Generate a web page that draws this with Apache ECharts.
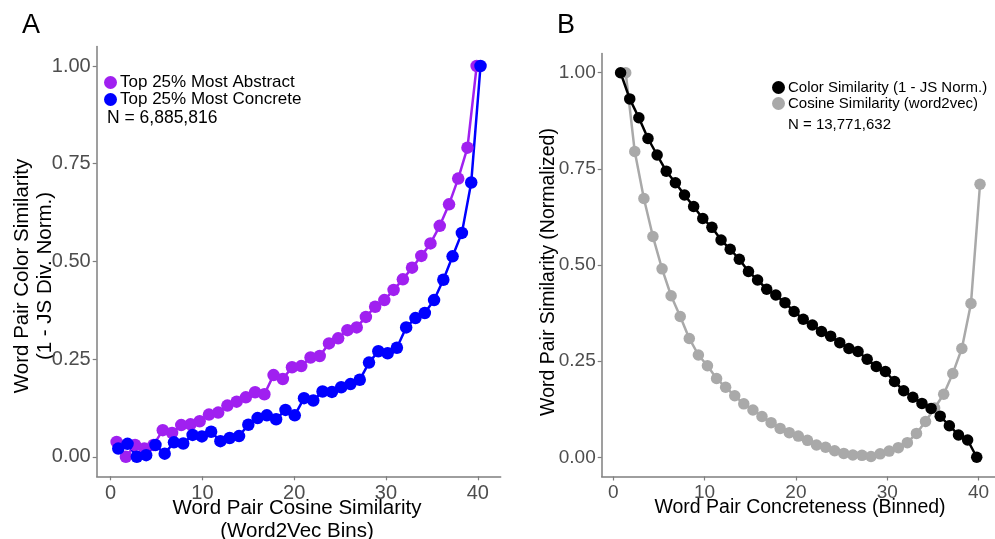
<!DOCTYPE html>
<html>
<head>
<meta charset="utf-8">
<script src="https://cdn.jsdelivr.net/npm/echarts@6/dist/echarts.min.js"></script>
<style>
html,body{margin:0;padding:0;background:#fff;}
#main{width:995px;height:539px;}
</style>
</head>
<body>
<div id="main"></div>
<script>
// ---------- Panel A data ----------
const abstractX = [0.65,1.66,2.66,3.67,4.67,5.68,6.69,7.69,8.70,9.70,10.71,11.72,12.72,13.73,14.73,15.74,16.75,17.75,18.76,19.76,20.77,21.78,22.78,23.79,24.79,25.80,26.81,27.81,28.82,29.82,30.83,31.84,32.84,33.85,34.85,35.86,36.87,37.87,38.88,39.88];
const abstractY = [0.038,0.0,0.030,0.021,0.030,0.068,0.061,0.081,0.083,0.091,0.108,0.113,0.131,0.141,0.152,0.165,0.160,0.209,0.199,0.229,0.232,0.254,0.258,0.290,0.303,0.324,0.331,0.358,0.384,0.401,0.427,0.454,0.484,0.514,0.546,0.591,0.646,0.712,0.791,1.0];
const concreteX = [0.83,1.84,2.85,3.87,4.88,5.89,6.90,7.91,8.93,9.94,10.95,11.96,12.97,13.99,15.00,16.01,17.02,18.03,19.05,20.06,21.07,22.08,23.09,24.11,25.12,26.13,27.14,28.15,29.17,30.18,31.19,32.20,33.21,34.23,35.24,36.25,37.26,38.27,39.29,40.30];
const concreteY = [0.021,0.033,0.0,0.004,0.030,0.008,0.037,0.034,0.056,0.052,0.064,0.040,0.048,0.053,0.082,0.099,0.106,0.096,0.120,0.106,0.150,0.144,0.167,0.166,0.178,0.186,0.197,0.241,0.270,0.265,0.279,0.331,0.355,0.368,0.401,0.453,0.513,0.573,0.702,1.0];

// ---------- Panel B data ----------
const colorSimX = [0.8,1.8,2.8,3.8,4.8,5.8,6.8,7.8,8.8,9.8,10.8,11.8,12.8,13.8,14.8,15.8,16.8,17.8,18.8,19.8,20.8,21.8,22.8,23.8,24.8,25.8,26.8,27.8,28.8,29.8,30.8,31.8,32.8,33.8,34.8,35.8,36.8,37.8,38.8,39.8];
const colorSimY = [1.0,0.932,0.883,0.829,0.786,0.744,0.714,0.682,0.652,0.621,0.598,0.565,0.541,0.515,0.483,0.461,0.437,0.422,0.402,0.379,0.359,0.344,0.327,0.315,0.298,0.283,0.275,0.255,0.236,0.223,0.197,0.173,0.156,0.140,0.127,0.107,0.082,0.058,0.045,0.0];
const cosineSimX = [1.36,2.35,3.35,4.34,5.34,6.33,7.33,8.32,9.32,10.31,11.31,12.30,13.30,14.29,15.29,16.28,17.28,18.27,19.27,20.26,21.26,22.25,23.25,24.24,25.24,26.23,27.23,28.22,29.22,30.21,31.21,32.20,33.20,34.19,35.19,36.18,37.18,38.17,39.17,40.16];
const cosineSimY = [1.0,0.795,0.673,0.574,0.490,0.420,0.366,0.309,0.266,0.238,0.205,0.182,0.160,0.139,0.123,0.106,0.090,0.075,0.064,0.055,0.044,0.032,0.026,0.017,0.010,0.006,0.005,0.002,0.009,0.016,0.025,0.038,0.062,0.093,0.128,0.164,0.218,0.283,0.400,0.710];

// ---------- ticks / labels ----------
const xTickValues = [0,10,20,30,40];
const yTickValues = [0,0.25,0.5,0.75,1];
const seriesNamesA = ['Top 25% Most Abstract','Top 25% Most Concrete'];
const seriesNamesB = ['Color Similarity (1 - JS Norm.)','Cosine Similarity (word2vec)'];
const nTextA = 'N = 6,885,816';
const nTextB = 'N = 13,771,632';

const FONT = '"Liberation Sans", Arial, sans-serif';
const pair = (xs, ys) => xs.map((x, i) => [x, ys[i]]);

const chart = echarts.init(document.getElementById('main'), null, {renderer: 'canvas'});

function xAxisDef(gridIndex, min, max, fs) {
  return {
    type: 'value', gridIndex, min, max,
    axisLine: {show: true, onZero: false, lineStyle: {color: '#7f7f7f', width: 1.5}},
    axisTick: {show: true, length: 4, customValues: xTickValues, lineStyle: {color: '#7f7f7f', width: 1.2}},
    axisLabel: {customValues: xTickValues, color: '#4d4d4d', fontSize: fs, fontFamily: FONT, margin: 7},
    splitLine: {show: false}
  };
}
function yAxisDef(gridIndex, fs) {
  return {
    type: 'value', gridIndex, min: -0.05, max: 1.05,
    axisLine: {show: true, onZero: false, lineStyle: {color: '#7f7f7f', width: 1.5}},
    axisTick: {show: true, length: 4, customValues: yTickValues, lineStyle: {color: '#7f7f7f', width: 1.2}},
    axisLabel: {customValues: yTickValues, color: '#4d4d4d', fontSize: fs, fontFamily: FONT, margin: 6,
      formatter: v => v.toFixed(2)},
    splitLine: {show: false}
  };
}
function lineS(name, xi, data, color) {
  return {name, type: 'line', xAxisIndex: xi, yAxisIndex: xi, data, showSymbol: false, symbol: 'none',
    lineStyle: {color, width: 2.5}, itemStyle: {color}, z: 2, animation: false, silent: true};
}
function dotS(name, xi, data, color, size) {
  return {name, type: 'scatter', xAxisIndex: xi, yAxisIndex: xi, data, symbol: 'circle', symbolSize: size,
    itemStyle: {color, opacity: 1}, z: 3, animation: false, silent: true};
}

const PURPLE = '#a020f0', BLUE = '#0000ff', BLACK = '#000000', GRAY = '#a9a9a9';

chart.setOption({
  backgroundColor: '#ffffff',
  animation: false,
  grid: [
    {left: 96.7, top: 46.5, width: 404, height: 429.8, containLabel: false},
    {left: 601.7, top: 53.5, width: 393.3, height: 423, containLabel: false}
  ],
  xAxis: [xAxisDef(0, -1.52, 42.5, 20), xAxisDef(1, -1.27, 41.8, 19)],
  yAxis: [yAxisDef(0, 20), yAxisDef(1, 19)],
  legend: [
    {data: seriesNamesA, left: 104, top: 74, orient: 'vertical', itemGap: 0, icon: 'circle',
      itemWidth: 13, itemHeight: 13, padding: 0, selectedMode: false,
      textStyle: {fontSize: 17, fontFamily: FONT, color: '#000', padding: [0, 0, 0, -2]}},
    {data: seriesNamesB, left: 772, top: 80, orient: 'vertical', itemGap: 1, icon: 'circle',
      itemWidth: 13, itemHeight: 13, padding: 0, selectedMode: false,
      textStyle: {fontSize: 15, fontFamily: FONT, color: '#000', padding: [0, 0, 0, -2]}}
  ],
  series: [
    lineS(seriesNamesA[0], 0, pair(abstractX, abstractY), PURPLE),
    lineS(seriesNamesA[1], 0, pair(concreteX, concreteY), BLUE),
    dotS(seriesNamesA[0], 0, pair(abstractX, abstractY), PURPLE, 12.5),
    dotS(seriesNamesA[1], 0, pair(concreteX, concreteY), BLUE, 12.5),
    lineS(seriesNamesB[1], 1, pair(cosineSimX, cosineSimY), GRAY),
    lineS(seriesNamesB[0], 1, pair(colorSimX, colorSimY), BLACK),
    dotS(seriesNamesB[1], 1, pair(cosineSimX, cosineSimY), GRAY, 11.5),
    dotS(seriesNamesB[0], 1, pair(colorSimX, colorSimY), BLACK, 11.5)
  ],
  graphic: [
    {type: 'text', left: 22, top: 12, style: {text: 'A', font: '27px ' + FONT, fill: '#000'}},
    {type: 'text', left: 557, top: 12, style: {text: 'B', font: '27px ' + FONT, fill: '#000'}},
    {type: 'text', x: 34, y: 276, rotation: Math.PI / 2,
      style: {text: 'Word Pair Color Similarity\n(1 - JS Div. Norm.)', font: '20.5px ' + FONT, fill: '#000',
        align: 'center', verticalAlign: 'middle', lineHeight: 23}},
    {type: 'text', x: 297, y: 520,
      style: {text: 'Word Pair Cosine Similarity\n(Word2Vec Bins)', font: '20.5px ' + FONT, fill: '#000',
        align: 'center', verticalAlign: 'middle', lineHeight: 23}},
    {type: 'text', x: 549, y: 272, rotation: Math.PI / 2,
      style: {text: 'Word Pair Similarity (Normalized)', font: '19.5px ' + FONT, fill: '#000',
        align: 'center', verticalAlign: 'middle'}},
    {type: 'text', x: 800, y: 508,
      style: {text: 'Word Pair Concreteness (Binned)', font: '19.5px ' + FONT, fill: '#000',
        align: 'center', verticalAlign: 'middle'}},
    {type: 'text', left: 107, top: 109, style: {text: nTextA, font: '17.5px ' + FONT, fill: '#000'}},
    {type: 'text', left: 788, top: 117, style: {text: nTextB, font: '15px ' + FONT, fill: '#000'}}
  ]
});
</script>
</body>
</html>
